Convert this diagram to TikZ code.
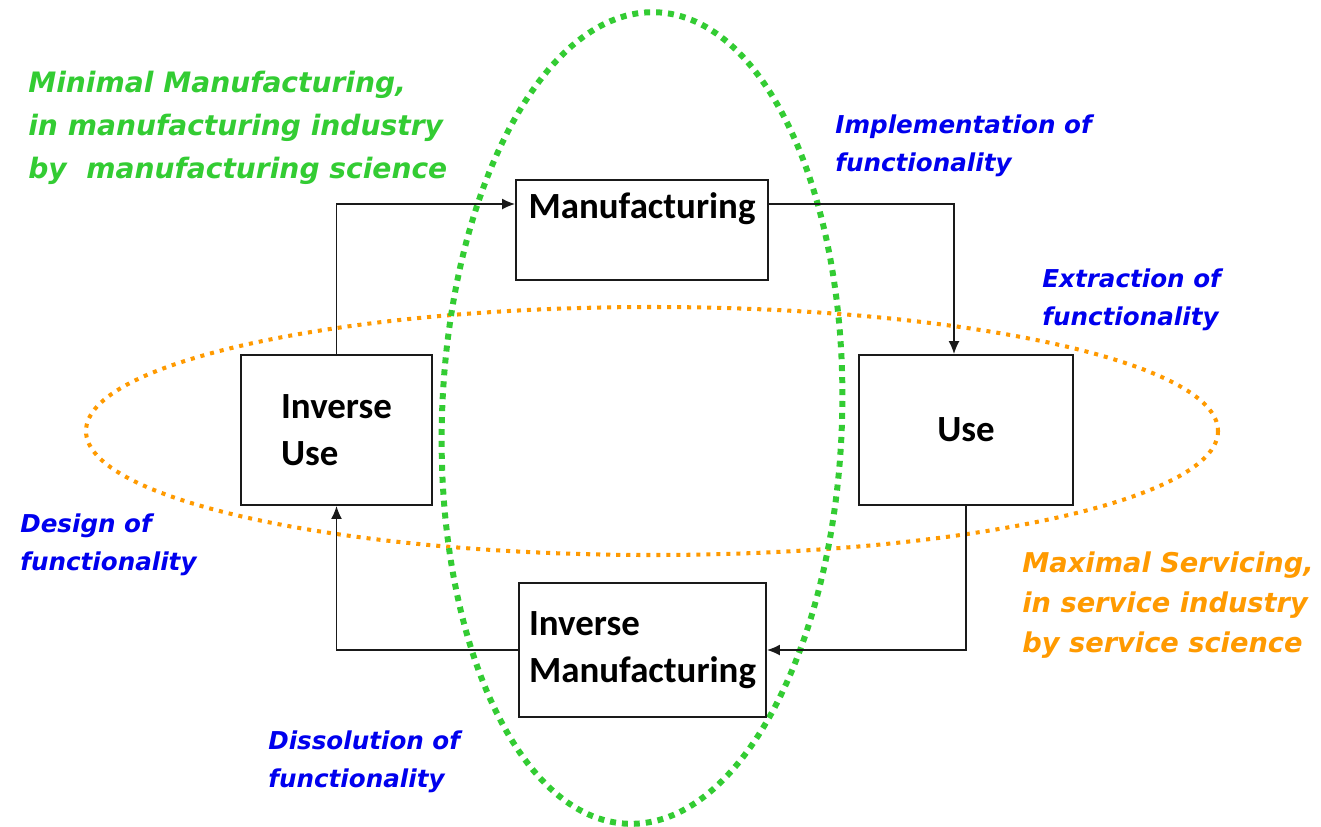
\documentclass[tikz,border=0pt]{standalone}
\usepackage{fontspec}
\setmainfont{Carlito}
\newfontfamily\labelfont{DejaVu Sans}
\usetikzlibrary{arrows.meta}
\usepackage{xcolor}
\definecolor{mfggreen}{HTML}{33CC33}
\definecolor{srvorange}{HTML}{FF9A00}
\definecolor{fnblue}{HTML}{0000EE}
\definecolor{dark}{HTML}{1A1A1A}
\tikzset{
  box/.style={draw=dark, line width=1.1pt, fill=white, align=left, inner sep=0pt, font=\bfseries\fontsize{21pt}{26.7pt}\selectfont},
  lbl/.style={align=left, inner sep=0pt, anchor=west},
  grnlbl/.style={lbl, text=mfggreen, font=\labelfont\bfseries\itshape\fontsize{16pt}{24.4pt}\selectfont},
  srvlbl/.style={lbl, text=srvorange, font=\labelfont\bfseries\itshape\fontsize{15.5pt}{22.7pt}\selectfont},
  fnlbl/.style={lbl, text=fnblue, font=\labelfont\bfseries\itshape\fontsize{14pt}{21.5pt}\selectfont},
  grnring/.style={draw=mfggreen, line width=3.4pt, dash pattern=on 3.4pt off 3.4pt},
  srvring/.style={draw=srvorange, line width=2.3pt, dash pattern=on 2.3pt off 3.4pt},
  arrow/.style={-{Latex[length=2.6mm,width=2.2mm]}, line width=0.9pt, draw=dark}
}
\begin{document}
\begin{tikzpicture}[x=0.02cm, y=-0.02cm]
  \fill[white] (0,0) rectangle (1321,826);
  \useasboundingbox (0,0) rectangle (1321,826);
  % dotted rings
  \draw[srvring] (652,431) ellipse [x radius=566, y radius=124];
  \draw[grnring, rotate around={-2:(642,418)}] (642,418) ellipse [x radius=200, y radius=406];
  % boxes
  \node[box, minimum width=5.04cm, text height=0.76cm, text depth=1.24cm] (mfg) at (642,230) {Manufacturing};
  \node[box, minimum width=3.82cm, minimum height=3.0cm] (invuse) at (336.5,430) {Inverse\\Use};
  \node[box, minimum width=4.28cm, minimum height=3.0cm] (use) at (966,430) {Use};
  \node[box, minimum width=4.94cm, minimum height=2.68cm] (invmfg) at (642.5,650) {Inverse\\Manufacturing};
  % cycle
  \draw[arrow] (invuse.north) |- ([yshift=0.52cm]mfg.west);
  \draw[arrow] ([yshift=0.52cm]mfg.east) -| ([xshift=-0.24cm]use.north);
  \draw[arrow] (use.south) |- (invmfg.east);
  \draw[arrow] (invmfg.west) -| (invuse.south);
  % labels
  \node[grnlbl] (minmfg) at (28,128) {Minimal Manufacturing,\\in manufacturing industry\\by\ \ manufacturing science};
  \node[srvlbl] (maxsrv) at (1022,605) {Maximal Servicing,\\in service industry\\by service science};
  \node[fnlbl] (impl) at (835,146) {Implementation of\\functionality};
  \node[fnlbl] (extr) at (1042,300) {Extraction of\\functionality};
  \node[fnlbl] (design) at (20,545) {Design of\\functionality};
  \node[fnlbl] (dissol) at (268,762) {Dissolution of\\functionality};
\end{tikzpicture}
\end{document}
